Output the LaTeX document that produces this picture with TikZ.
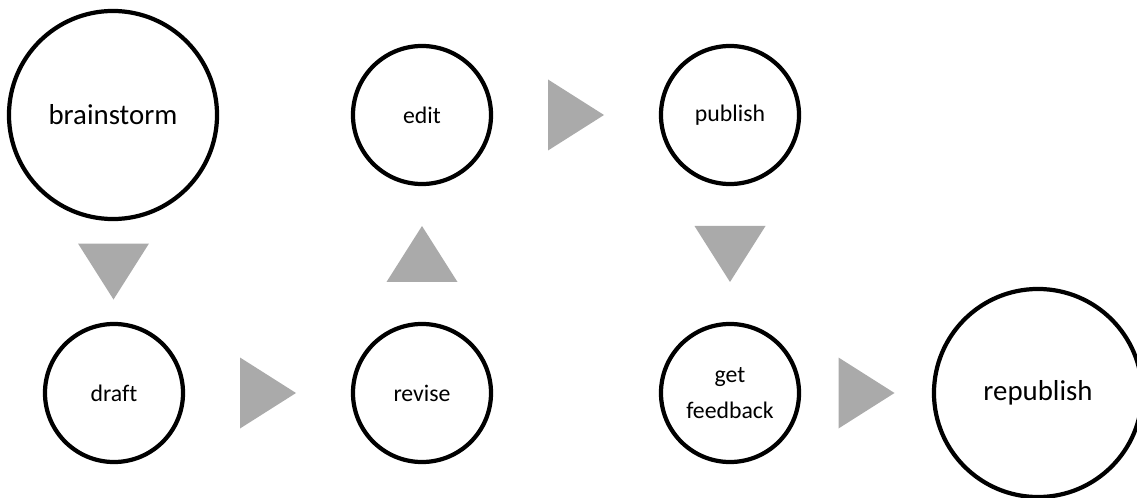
\documentclass[tikz,border=0pt]{standalone}
\usepackage{fontspec}
\setmainfont{Carlito}[Ligatures=NoCommon]
\usetikzlibrary{calc}
\definecolor{arrowgray}{HTML}{AAAAAA}
\newcommand{\smallstepfont}{\fontsize{16.9}{25}\selectfont}
\newcommand{\bigstepfont}{\fontsize{20.5}{25}\selectfont}
\begin{document}
\begin{tikzpicture}
        [x=0.025cm, y=0.025cm,
        stepdecorate/.style={shape=circle,draw,line width=3pt,inner sep=0pt,
          minimum size=3.45cm,align=center,font=\smallstepfont},
        bigdecorate/.style={stepdecorate,minimum size=5.2cm,font=\bigstepfont},
        arrowdecorate/.style={fill=arrowgray}]
        \useasboundingbox (0,0) rectangle (1137,-498);
        %% nodes or steps
        \foreach \nodename/\x/\y/\nodestyle/\nodetext in {
          brainstorm/113/-115/bigdecorate/brainstorm,
          draft/114/-393/stepdecorate/draft,
          revise/422/-393/stepdecorate/revise,
          edit/422/-115/stepdecorate/edit,
          publish/730/-115/stepdecorate/publish,
          feedback/730/-393/stepdecorate/{get\\feedback},
          republish/1038/-393/bigdecorate/republish}
        {
          \node (\nodename) at (\x,\y) [\nodestyle] {\nodetext};
        }
        %% arrows between steps
        \foreach \startnode/\endnode/\startside/\endside/\turn in {
          brainstorm/draft/south/north/-90, draft/revise/east/west/0,
          revise/edit/north/south/90, edit/publish/east/west/0,
          publish/feedback/south/north/-90, feedback/republish/east/west/0}
        {
          \fill[arrowdecorate,shift={($(\startnode.\startside)!.5!(\endnode.\endside)$)},rotate=\turn]
            (28,0) -- (-28,35.5) -- (-28,-35.5) -- cycle;
        }
\end{tikzpicture}
\end{document}
